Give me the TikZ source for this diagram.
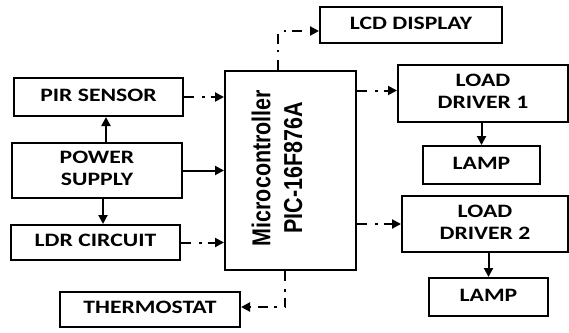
\documentclass[tikz,border=0pt]{standalone}
\usepackage{fontspec}
\setmainfont{Carlito}
\newfontfamily\mcufont{Liberation Sans}
\usepackage{graphicx}
\usetikzlibrary{arrows.meta, calc}
\newcommand{\boxtext}[1]{\scalebox{1.25}[1]{\begin{tabular}{@{}c@{}}#1\end{tabular}}}

\begin{document}
\begin{tikzpicture}[x=1bp, y=-1bp, >={Triangle[length=9bp, width=9bp]},
  blk/.style={draw, line width=2bp, inner sep=0pt,
              font=\fontsize{19}{22}\selectfont\bfseries},
  sig/.style={->, line width=2bp, dash pattern=on 10bp off 8bp on 2.5bp off 6bp},
  pwr/.style={->, line width=2bp}]

  \useasboundingbox (0,0) rectangle (569,332);

  % --- input side ------------------------------------------------------------
  \node[blk, minimum width=169bp, minimum height=38bp] (pir) at (98.5,97) {\boxtext{PIR SENSOR}};
  \node[blk, minimum width=170bp, minimum height=55bp] (power) at (97,170.5) {\boxtext{POWER\\SUPPLY}};
  \node[blk, minimum width=169bp, minimum height=35bp] (ldr) at (95.5,242.5) {\boxtext{LDR CIRCUIT}};
  \node[blk, minimum width=180bp, minimum height=35bp] (thermo) at (150,309.5) {\boxtext{THERMOSTAT}};

  % --- the controller --------------------------------------------------------
  \node[blk, minimum width=131bp, minimum height=199bp] (mcu) at (290.5,170.5) {};
  \node[rotate=90, align=center, inner sep=0pt,
        font=\mcufont\fontsize{26}{32}\selectfont\bfseries] (mcutxt) at (277,168)
    {\scalebox{0.83}[1]{Microcontroller}\\\scalebox{0.83}[1]{PIC-16F876A}};

  % --- output side -----------------------------------------------------------
  \node[blk, minimum width=182bp, minimum height=36bp] (lcd) at (411,25) {\boxtext{LCD DISPLAY}};
  \node[blk, minimum width=170bp, minimum height=57bp] (ld1) at (483,93.5) {\boxtext{LOAD\\DRIVER 1}};
  \node[blk, minimum width=117bp, minimum height=38bp] (lamp1) at (481.5,165) {\boxtext{LAMP}};
  \node[blk, minimum width=166bp, minimum height=56bp] (ld2) at (485,224) {\boxtext{LOAD\\DRIVER 2}};
  \node[blk, minimum width=119bp, minimum height=38bp] (lamp2) at (488.5,297) {\boxtext{LAMP}};

  % --- connectors ------------------------------------------------------------
  \coordinate (lcdbend) at (278,31);
  \coordinate (thbend) at (285,307);

  \draw[sig] (pir.east) -- (pir.east -| mcu.west);
  \draw[pwr] (power.east) -- (power.east -| mcu.west);
  \draw[pwr] ([xshift=9bp]power.north) -- ([xshift=9bp]power.north |- pir.south);
  \draw[pwr] ([xshift=6bp]power.south) -- ([xshift=6bp]power.south |- ldr.north);
  \draw[sig] (ldr.east) -- (ldr.east -| mcu.west);

  \draw[sig] (lcdbend |- mcu.north) -- (lcdbend) -- (lcdbend -| lcd.west);
  \draw[sig] (thbend |- mcu.south) -- (thbend) -- (thbend -| thermo.east);
  \draw[sig] ([yshift=3bp]ld1.west -| mcu.east) -- ([yshift=3bp]ld1.west);
  \draw[sig] (ld2.west -| mcu.east) -- (ld2.west);

  \draw[pwr] (ld1.south -| lamp1.north) -- (lamp1.north);
  \draw[pwr] (ld2.south -| lamp2.north) -- (lamp2.north);

\end{tikzpicture}
\end{document}
